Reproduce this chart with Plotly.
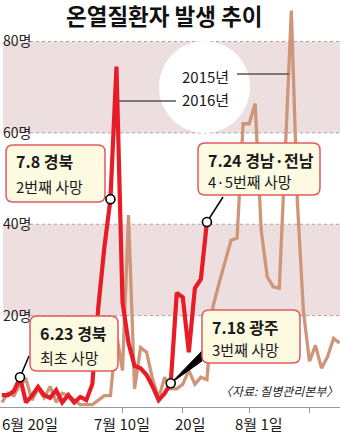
import plotly.graph_objects as go

# ---------------- data ----------------
# day offset from June 20 (0 = 6/20)
days_2015 = list(range(0, 57))
cases_2015 = [1, 3, 2.5, 5, 6, 1.5, 4, 2, 4.5, 1,
              3, 2.5, 1.5, 0.5, 0.5, 0.5, 1.5, 2.5, 2.5, 16,
              8, 42, 4, 13, 12, 6, 2, 6.5, 4, 4,
              5, 8, 5, 6.5, 6, 22, 27, 32, 36.5, 37,
              62, 62, 66.4, 38.7, 28.5, 26.3, 26, 56, 86.8, 45,
              21, 10, 13.5, 8.5, 11, 15, 14]
days_2016 = list(range(0, 35))
cases_2016 = [2.6, 2.6, 3.5, 6.5, 1, 2.5, 4.4, 2.6, 2, 3.7,
              1, 2.6, 1, 2.2, 1.5, 5, 22, 35, 45.5, 74.5,
              23, 14, 9, 8.5, 7, 4.5, 1.5, 3, 5.2, 25,
              24, 12, 26, 28, 40.5]
death_days = [3, 18, 28, 34]
death_line1 = ["6.23 경북", "7.8 경북", "7.18 광주", "7.24 경남·전남"]
death_line2 = ["최초 사망", "2번째 사망", "3번째 사망", "4·5번째 사망"]
ytick_vals = [20, 40, 60, 80]
ytick_text = ["20명", "40명", "60명", "80명"]
xtick_vals = [20, 30, 41, 51]
xlabel_text = ["6월 20일", "7월 10일", "20일", "8월 1일"]
title_text = "온열질환자 발생 추이"
series_names = ["2015년", "2016년"]
source_text = "〈자료: 질병관리본부〉"

# ---------------- layout helpers ----------------
W, H = 340, 434
PT, PB = 5, 27
X0, X1 = -0.315, 56.07
Y0, Y1 = 0, 88
FONT = "Noto Sans CJK KR"
RED = "rgb(232,28,38)"
BROWN = "rgb(206,150,120)"
BAND = "rgb(237,223,223)"


def dx(px):
    return X0 + px / W * (X1 - X0)


def dy(py):
    return Y1 - (py - PT) / (H - PT - PB) * (Y1 - Y0)


def pxp(px):
    return px / W


def pyp(py):
    return (H - PB - py) / (H - PT - PB)


def rrect(x0, y0, x1, y1, r=6):
    P = lambda a, b: f"{pxp(a):.5f},{pyp(b):.5f}"
    return (f"M {P(x0 + r, y0)} L {P(x1 - r, y0)} Q {P(x1, y0)} {P(x1, y0 + r)} "
            f"L {P(x1, y1 - r)} Q {P(x1, y1)} {P(x1 - r, y1)} L {P(x0 + r, y1)} "
            f"Q {P(x0, y1)} {P(x0, y1 - r)} L {P(x0, y0 + r)} Q {P(x0, y0)} {P(x0 + r, y0)} Z")


fig = go.Figure()

# 2015 line
fig.add_trace(go.Scatter(x=days_2015, y=cases_2015, mode="lines",
                         line=dict(color=BROWN, width=3.3), hoverinfo="skip"))
# 2016 line
fig.add_trace(go.Scatter(x=days_2016, y=cases_2016, mode="lines",
                         line=dict(color=RED, width=4.2), hoverinfo="skip"))

# pointer lines (from each marked point to its callout box)
death_vals = [cases_2016[d] for d in death_days]
ends = [(29, 356), (104, 197), None, (223, 197)]
for d, v, e in zip(death_days, death_vals, ends):
    if e is None:
        continue
    fig.add_trace(go.Scatter(x=[d, dx(e[0])], y=[v, dy(e[1])], mode="lines",
                             line=dict(color="black", width=1.5), hoverinfo="skip"))
# wedge pointer for 7.18
d, v = death_days[2], death_vals[2]
fig.add_trace(go.Scatter(x=[d, dx(202), dx(202), d], y=[v, dy(351), dy(361), v],
                         mode="lines", fill="toself", fillcolor="black",
                         line=dict(color="black", width=1), hoverinfo="skip"))

# markers
fig.add_trace(go.Scatter(x=death_days, y=death_vals, mode="markers",
                         marker=dict(size=9, color="white",
                                     line=dict(color="black", width=1.6)),
                         hoverinfo="skip"))

shapes = []
# bands
for lo, hi in [(20, 40), (60, 80)]:
    shapes.append(dict(type="rect", xref="paper", yref="y", x0=pxp(3), x1=1,
                       y0=lo, y1=hi, fillcolor=BAND, line=dict(width=0), layer="below"))
# grid lines
for v in ytick_vals:
    shapes.append(dict(type="line", xref="paper", yref="y", x0=pxp(30), x1=1,
                       y0=v, y1=v, line=dict(color="rgb(175,160,160)", width=1, dash="3px,3px"),
                       layer="below"))
# legend white circle
shapes.append(dict(type="circle", xref="paper", yref="paper",
                   x0=pxp(159), x1=pxp(250), y0=pyp(133), y1=pyp(41),
                   fillcolor="white", line=dict(width=0), layer="below"))
# legend leader lines
shapes.append(dict(type="line", xref="paper", yref="paper", x0=pxp(237), x1=pxp(289),
                   y0=pyp(74), y1=pyp(74), line=dict(color="#555", width=1.5)))
shapes.append(dict(type="line", xref="paper", yref="paper", x0=pxp(119), x1=pxp(176),
                   y0=pyp(101), y1=pyp(101), line=dict(color="#555", width=1.5)))

# callout boxes
boxes = [(30, 316, 118, 371), (6, 145, 105, 202), (202, 310, 300, 363), (198, 143, 320, 195)]
line_y = [(333, 357), (161, 186), (327, 349), (160, 181)]
for b in boxes:
    shapes.append(dict(type="path", xref="paper", yref="paper", path=rrect(*b, r=7),
                       fillcolor="rgb(253,250,226)", line=dict(color="rgb(228,88,96)", width=1.5),
                       layer="above"))

annotations = []
for b, ly, t1, t2 in zip(boxes, line_y, death_line1, death_line2):
    annotations.append(dict(xref="paper", yref="paper", x=pxp(b[0] + 8), y=pyp(ly[0]),
                            xanchor="left", yanchor="middle", showarrow=False,
                            text=f"<b>{t1}</b>", font=dict(size=16, color="#1a1a1a", family=FONT)))
    annotations.append(dict(xref="paper", yref="paper", x=pxp(b[0] + 8), y=pyp(ly[1]),
                            xanchor="left", yanchor="middle", showarrow=False,
                            text=t2, font=dict(size=15, color="#1a1a1a", family=FONT)))

# title
annotations.append(dict(xref="paper", yref="paper", x=pxp(164), y=pyp(15),
                        xanchor="center", yanchor="middle", showarrow=False,
                        text=f"<b>{title_text}</b>", font=dict(size=22.5, color="#111", family=FONT)))
# legend labels
annotations.append(dict(xref="paper", yref="paper", x=pxp(206), y=pyp(76),
                        xanchor="center", yanchor="middle", showarrow=False,
                        text=series_names[0], font=dict(size=15, color="#1a1a1a", family=FONT)))
annotations.append(dict(xref="paper", yref="paper", x=pxp(206), y=pyp(99),
                        xanchor="center", yanchor="middle", showarrow=False,
                        text=series_names[1], font=dict(size=15, color="#1a1a1a", family=FONT)))
# source
annotations.append(dict(xref="paper", yref="paper", x=1, y=pyp(390),
                        xanchor="right", yanchor="middle", showarrow=False,
                        text=source_text,
                        font=dict(size=12, color="#222", family=FONT, style="italic")))
# x labels
label_px = [0, 122, 190, 259]
for i, (lp, t) in enumerate(zip(label_px, xlabel_text)):
    annotations.append(dict(xref="paper", yref="paper", x=pxp(lp), y=pyp(423),
                            xanchor="left" if i == 0 else "center", yanchor="middle",
                            showarrow=False, text=t,
                            font=dict(size=15, color="#1a1a1a", family=FONT)))

fig.update_layout(
    width=W, height=H,
    margin=dict(l=0, r=0, t=PT, b=PB, pad=0),
    plot_bgcolor="white", paper_bgcolor="white",
    showlegend=False,
    font=dict(family=FONT),
    shapes=shapes, annotations=annotations,
    xaxis=dict(range=[X0, X1], tickvals=xtick_vals, showticklabels=False,
               ticks="outside", ticklen=5, tickcolor="#999", showgrid=False,
               zeroline=False, showline=True, linecolor="#999", linewidth=1,
               fixedrange=True),
    yaxis=dict(range=[Y0, Y1], tickvals=ytick_vals, ticktext=ytick_text,
               ticklabelposition="inside", ticks="", showgrid=False, zeroline=False,
               showline=False, tickfont=dict(size=14, color="#222", family=FONT),
               fixedrange=True),
)

fig.write_html("out.html")
